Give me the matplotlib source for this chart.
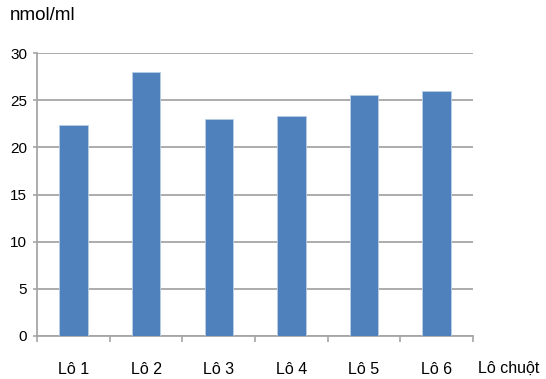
import numpy as np
import matplotlib.pyplot as plt
from matplotlib.ticker import FixedLocator

plt.rcParams['font.family'] = ['Liberation Sans', 'DejaVu Sans']

groups = ['Lô 1', 'Lô 2', 'Lô 3', 'Lô 4', 'Lô 5', 'Lô 6']
values = [22.4, 28.0, 23.0, 23.3, 25.5, 26.0]
y_ticks = [0, 5, 10, 15, 20, 25, 30]

grid_color = '#a6a6a6'

fig = plt.figure(figsize=(5.46, 3.79), dpi=100)
ax = fig.add_axes([0.0678, 0.1135, 0.7985, 0.7465])

x = np.arange(len(groups))
ax.bar(x, values, width=0.39, color='#4f81bd', edgecolor='#b9cde5',
       linewidth=0.6, zorder=3)

ax.set_xlim(-0.5, len(groups) - 0.5)
ax.set_ylim(0, 30)
ax.set_yticks(y_ticks)
ax.yaxis.grid(True, color=grid_color, linewidth=1.3)
ax.set_axisbelow(True)

# category labels in the middle, tick marks on the boundaries
ax.set_xticks(x)
ax.set_xticklabels(groups)
ax.xaxis.set_minor_locator(FixedLocator(np.arange(len(groups) + 1) - 0.5))
ax.tick_params(axis='x', which='major', length=0, pad=19, labelsize=11.5)
ax.tick_params(axis='x', which='minor', length=4.5, width=1.2, color=grid_color)
ax.tick_params(axis='y', length=3, width=1.2, color=grid_color, pad=4,
               labelsize=11)

for side in ['top', 'right']:
    ax.spines[side].set_visible(False)
for side in ['left', 'bottom']:
    ax.spines[side].set_color(grid_color)
    ax.spines[side].set_linewidth(1.3)

fig.text(10 / 546, 1 - 16 / 379, 'nmol/ml', fontsize=13.5, va='center', ha='left')
fig.text(478 / 546, 1 - 368 / 379, 'Lô chuột', fontsize=11.5, va='center', ha='left')

fig.savefig('out.png', dpi=100)
